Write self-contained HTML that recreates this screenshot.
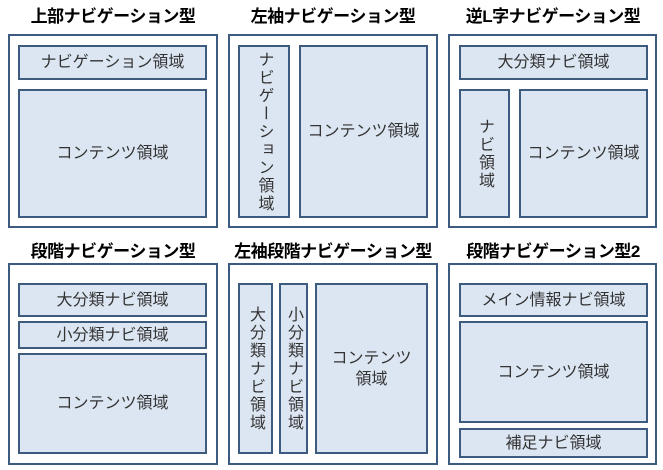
<!DOCTYPE html>
<html><head><meta charset="utf-8"><style>
body{margin:0;width:663px;height:470px;background:#fff;position:relative;overflow:hidden;font-family:"Liberation Sans","Noto Sans CJK JP",sans-serif}
.t{position:absolute;font-weight:bold;font-size:17px;color:#000;text-align:center;width:220px;top:5px;line-height:24px;letter-spacing:-0.5px}
.o{position:absolute;box-sizing:border-box;border:2px solid #3d5a7f;background:#fff}
.b{position:absolute;box-sizing:border-box;border:2px solid #3d5a7f;background:#dce6f2;color:#333;font-size:16px;display:flex;align-items:center;justify-content:center;text-align:center;line-height:21px}
.v{writing-mode:vertical-rl;text-orientation:upright;letter-spacing:2px}
</style></head><body>
<div class="t" style="left:3px">上部ナビゲーション型</div>
<div class="t" style="left:223px">左袖ナビゲーション型</div>
<div class="t" style="left:443px">逆L字ナビゲーション型</div>
<div class="t" style="left:3px;top:240px">段階ナビゲーション型</div>
<div class="t" style="left:223px;top:240px">左袖段階ナビゲーション型</div>
<div class="t" style="left:443px;top:240px">段階ナビゲーション型2</div>

<div class="o" style="left:8px;top:34px;width:210px;height:194px"></div>
<div class="b" style="left:18px;top:45px;width:189px;height:35px">ナビゲーション領域</div>
<div class="b" style="left:18px;top:89px;width:189px;height:129px">コンテンツ領域</div>

<div class="o" style="left:228px;top:34px;width:210px;height:194px"></div>
<div class="b" style="left:238px;top:45px;width:52px;height:173px"><span class="v">ナビゲーション領域</span></div>
<div class="b" style="left:299px;top:45px;width:129px;height:173px">コンテンツ領域</div>

<div class="o" style="left:448px;top:34px;width:209px;height:194px"></div>
<div class="b" style="left:459px;top:45px;width:189px;height:35px">大分類ナビ領域</div>
<div class="b" style="left:459px;top:89px;width:51px;height:129px"><span class="v">ナビ領域</span></div>
<div class="b" style="left:519px;top:89px;width:129px;height:129px">コンテンツ領域</div>

<div class="o" style="left:8px;top:263px;width:210px;height:202px"></div>
<div class="b" style="left:18px;top:283px;width:189px;height:34px">大分類ナビ領域</div>
<div class="b" style="left:18px;top:321px;width:189px;height:28px">小分類ナビ領域</div>
<div class="b" style="left:18px;top:353px;width:189px;height:101px">コンテンツ領域</div>

<div class="o" style="left:228px;top:263px;width:210px;height:202px"></div>
<div class="b" style="left:238px;top:283px;width:35px;height:171px"><span class="v">大分類ナビ領域</span></div>
<div class="b" style="left:279px;top:283px;width:29px;height:171px"><span class="v">小分類ナビ領域</span></div>
<div class="b" style="left:315px;top:283px;width:113px;height:171px">コンテンツ<br>領域</div>

<div class="o" style="left:448px;top:263px;width:209px;height:202px"></div>
<div class="b" style="left:459px;top:283px;width:189px;height:34px">メイン情報ナビ領域</div>
<div class="b" style="left:459px;top:321px;width:189px;height:102px">コンテンツ領域</div>
<div class="b" style="left:459px;top:428px;width:189px;height:30px">補足ナビ領域</div>
</body></html>
